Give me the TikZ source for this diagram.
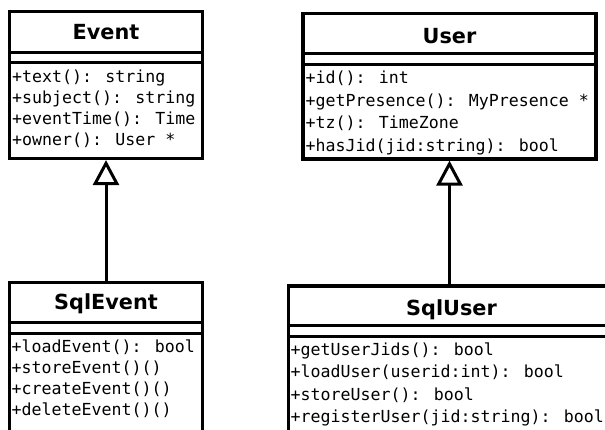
\documentclass[tikz,border=0pt]{standalone}
\usepackage{fontspec}
\setmainfont{DejaVu Sans}
\newfontfamily\monofnt{DejaVu Sans Mono}
\usetikzlibrary{arrows.meta}
\tikzset{
  umlbox/.style={draw=black, line width=3.2pt, fill=white, inner sep=0pt, rectangle},
  sepline/.style={draw=black, line width=3pt},
  titletext/.style={anchor=base, inner sep=0pt, font=\fontsize{20.8}{24}\selectfont\bfseries},
  meth/.style={anchor=base west, inner sep=0pt, font=\fontsize{16.6}{20}\selectfont\monofnt},
  inherit/.style={draw=black, line width=3pt, -{Triangle[open, length=25pt, width=26pt]}}
}
\begin{document}
\begin{tikzpicture}[x=1pt, y=-1pt]
\useasboundingbox (0,0) rectangle (605,429);
\clip (0,0) rectangle (605,429);
\fill[white] (0,0) rectangle (605,429);

% Event
\node[umlbox, minimum width=193pt, minimum height=147pt] (event) at (106,85) {};
\draw[sepline] (event.west |- 0,52) -- (event.east |- 0,52);
\draw[sepline] (event.west |- 0,62) -- (event.east |- 0,62);
\node[titletext] (eventt) at (106,39) {Event};
\node[meth] (e1) at (12,82) {+text(): string};
\node[meth] (e2) at (12,103) {+subject(): string};
\node[meth] (e3) at (12,124) {+eventTime(): Time};
\node[meth] (e4) at (12,145) {+owner(): User *};

% User
\node[umlbox, minimum width=293pt, minimum height=145.5pt] (user) at (449.5,86.25) {};
\draw[sepline] (user.west |- 0,53.5) -- (user.east |- 0,53.5);
\draw[sepline] (user.west |- 0,64.5) -- (user.east |- 0,64.5);
\node[titletext] (usert) at (449.5,43) {User};
\node[meth] (u1) at (305.5,83) {+id(): int};
\node[meth] (u2) at (305.5,106) {+getPresence(): MyPresence *};
\node[meth] (u3) at (305.5,128.5) {+tz(): TimeZone};
\node[meth] (u4) at (305.5,151) {+hasJid(jid:string): bool};

% SqlEvent
\node[umlbox, minimum width=193.5pt, minimum height=177.5pt] (sqlevent) at (106,371.25) {};
\draw[sepline] (sqlevent.west |- 0,322.5) -- (sqlevent.east |- 0,322.5);
\draw[sepline] (sqlevent.west |- 0,333) -- (sqlevent.east |- 0,333);
\node[titletext] (sqleventt) at (106,309) {SqlEvent};
\node[meth] (s1) at (11.5,352) {+loadEvent(): bool};
\node[meth] (s2) at (11.5,373) {+storeEvent()()};
\node[meth] (s3) at (11.5,394) {+createEvent()()};
\node[meth] (s4) at (11.5,415) {+deleteEvent()()};

% SqlUser
\node[umlbox, minimum width=326pt, minimum height=174pt] (sqluser) at (451.5,373) {};
\draw[sepline] (sqluser.west |- 0,325.5) -- (sqluser.east |- 0,325.5);
\draw[sepline] (sqluser.west |- 0,336.5) -- (sqluser.east |- 0,336.5);
\node[titletext] (sqlusert) at (451.5,315) {SqlUser};
\node[meth] (q1) at (290.5,355) {+getUserJids(): bool};
\node[meth] (q2) at (290.5,377.5) {+loadUser(userid:int): bool};
\node[meth] (q3) at (290.5,400) {+storeUser(): bool};
\node[meth] (q4) at (290.5,422) {+registerUser(jid:string): bool};

% Inheritance
\draw[inherit] (sqlevent.north) -- (event.south);
\draw[inherit] (sqluser.north -| user.south) -- (user.south);
\end{tikzpicture}
\end{document}
